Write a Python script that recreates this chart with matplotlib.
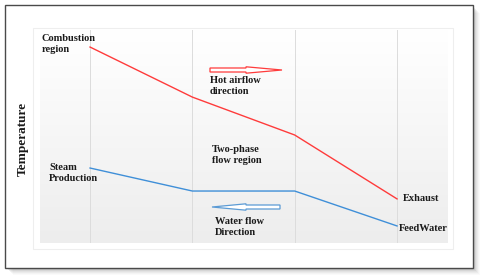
import numpy as np
import matplotlib.pyplot as plt
import matplotlib.patches as mpatches

# values (arbitrary temperature units, 0..100)
stages = [0, 1, 2, 3]
hot_gas = [92, 68.5, 50.7, 20.7]
water = [35.2, 24.4, 24.4, 8.0]

W, H = 480, 277
fig = plt.figure(figsize=(W / 100, H / 100), dpi=100)
fig.patch.set_facecolor('white')


def fx(x):
    return x / W


def fy(y):
    return 1 - y / H


def rect(x0, y0, x1, y1, **kw):
    r = mpatches.Rectangle((fx(x0), fy(y1)), fx(x1) - fx(x0), fy(y0) - fy(y1),
                           transform=fig.transFigure, zorder=-5, **kw)
    fig.add_artist(r)


# shadow + outer frame
for i, a in enumerate([0.14, 0.11, 0.08, 0.06, 0.04, 0.03]):
    d = i + 1
    rect(5 + d + 2, 5 + d + 2, 473 + d + 1, 268 + d + 1, facecolor='#707070',
         edgecolor='none', alpha=a)
rect(5, 5, 473, 268, facecolor='white', edgecolor='#4a4a4a', lw=1.0)
rect(33, 28, 453, 249, facecolor='white', edgecolor='#eeeeee', lw=0.8)

ax = fig.add_axes([fx(40), fy(243), fx(448) - fx(40), fy(30) - fy(243)])
ax.set_zorder(1)
ax.patch.set_alpha(0)
ax.set_xlim(-0.489, 3.498)
ax.set_ylim(0, 100)
grad = np.linspace(1, 0, 256).reshape(-1, 1)
ax.imshow(grad, extent=[0, 1, 0, 1], transform=ax.transAxes, aspect='auto',
          cmap=plt.matplotlib.colors.LinearSegmentedColormap.from_list(
              'g', ['#ededed', '#ffffff']), zorder=0)
for s in stages:
    ax.axvline(s, color='#dcdcdc', lw=0.7, zorder=1)
ax.plot(stages, hot_gas, color='#ff3b3b', lw=1.0, zorder=3)
ax.plot(stages, water, color='#3f8fd8', lw=1.0, zorder=3)
for sp in ax.spines.values():
    sp.set_visible(False)
ax.set_xticks([])
ax.set_yticks([])

font = dict(family='Liberation Serif', fontweight='bold', fontsize=7.5,
            color='#1a1a1a', linespacing=1.3, zorder=5)


def label(x, y, s, **kw):
    d = dict(font)
    d.update(kw)
    fig.text(fx(x), fy(y), s, va='top', ha='left', **d)


label(42, 34, 'Combustion\nregion')
label(210, 76, 'Hot airflow\ndirection')
label(212, 145, 'Two-phase\nflow region')
label(49, 163, 'Steam\nProduction')
label(215, 217, 'Water flow\nDirection')
label(403, 194, 'Exhaust')
label(399, 224, 'FeedWater')
fig.text(fx(23), fy(139), 'Temperature', rotation=90, ha='center', va='center',
         family='Liberation Serif', fontweight='bold', fontsize=9.5, color='#1a1a1a')


def hollow_arrow(x_tail, x_tip, y, color):
    xm = x_tail + (x_tip - x_tail) * 0.5
    pts = [(x_tail, y - 2), (xm, y - 2), (xm, y - 3.2), (x_tip, y),
           (xm, y + 3.2), (xm, y + 2), (x_tail, y + 2)]
    poly = mpatches.Polygon([(fx(a), fy(b)) for a, b in pts], closed=True,
                            transform=fig.transFigure, facecolor='white',
                            edgecolor=color, lw=0.9, zorder=5)
    fig.add_artist(poly)


hollow_arrow(210, 282, 70, '#ff3b3b')
hollow_arrow(280, 212, 207, '#5b9bd5')

fig.savefig('out.png', dpi=100)
